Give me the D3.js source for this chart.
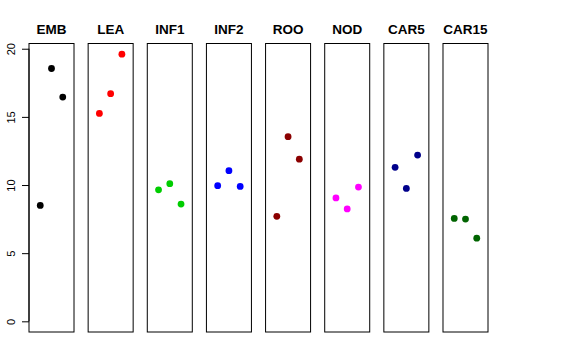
<!DOCTYPE html>
<html><head><meta charset="utf-8">
<script src="https://cdn.jsdelivr.net/npm/d3@7"></script>
<style>body{margin:0;background:#fff}</style>
</head><body>
<svg id="c" width="576" height="360"></svg>
<script>
const categories = ["EMB","LEA","INF1","INF2","ROO","NOD","CAR5","CAR15"];
const rep1 = [8.5, 15.25, 9.65, 9.95, 7.7, 9.05, 11.3, 7.55];
const rep2 = [18.55, 16.7, 10.1, 11.05, 13.55, 8.25, 9.75, 7.5];
const rep3 = [16.45, 19.6, 8.6, 9.9, 11.9, 9.85, 12.2, 6.1];
const colors = ["#000000","#FF0000","#00CD00","#0000FF","#8B0000","#FF00FF","#00008B","#006400"];
const yTicks = [0,5,10,15,20];

const svg = d3.select("#c");
const xb = d3.scaleBand().domain(categories).range([29, 488]).paddingInner(0.239).paddingOuter(0);
const y = d3.scaleLinear().domain([-0.784, 20.384]).range([332, 43.5]);
const xi = d3.scaleLinear().domain([0, 4]).range([0, xb.bandwidth()]);

categories.forEach((c, i) => {
  const g = svg.append("g").attr("transform", `translate(${xb(c)},0)`);
  const vals = [rep1[i], rep2[i], rep3[i]];
  g.selectAll("circle").data(vals).enter().append("circle")
    .attr("cx", (d, j) => xi(j + 1))
    .attr("cy", d => y(d))
    .attr("r", 3.4)
    .attr("fill", colors[i]);
  g.append("rect")
    .attr("x", 0).attr("y", y(20.384))
    .attr("width", xb.bandwidth()).attr("height", y(-0.784) - y(20.384))
    .attr("fill", "none").attr("stroke", "#000").attr("stroke-width", 1);
  g.append("text")
    .attr("x", xb.bandwidth() / 2).attr("y", 34)
    .attr("text-anchor", "middle")
    .attr("font-family", "Liberation Sans, Arial, sans-serif")
    .attr("font-weight", "bold").attr("font-size", "13.5px")
    .text(c);
});

const ax = svg.append("g").attr("transform", `translate(${xb(categories[0])},0)`);
const axis = d3.axisLeft(y).tickValues(yTicks).tickSize(7).tickPadding(4).tickSizeOuter(0);
ax.call(axis);
ax.select(".domain").attr("d", `M0,${y(0)}V${y(20)}`).attr("stroke", "#000");
ax.selectAll(".tick line").attr("stroke", "#000");
ax.selectAll(".tick text")
  .attr("font-family", "Liberation Sans, Arial, sans-serif")
  .attr("font-size", "11px").attr("fill", "#000")
  .attr("text-anchor", "middle")
  .attr("dy", null)
  .attr("transform", "translate(-18,0) rotate(-90)")
  .attr("x", 0).attr("y", 0)
  .attr("dominant-baseline", "central");
</script>
</body></html>
